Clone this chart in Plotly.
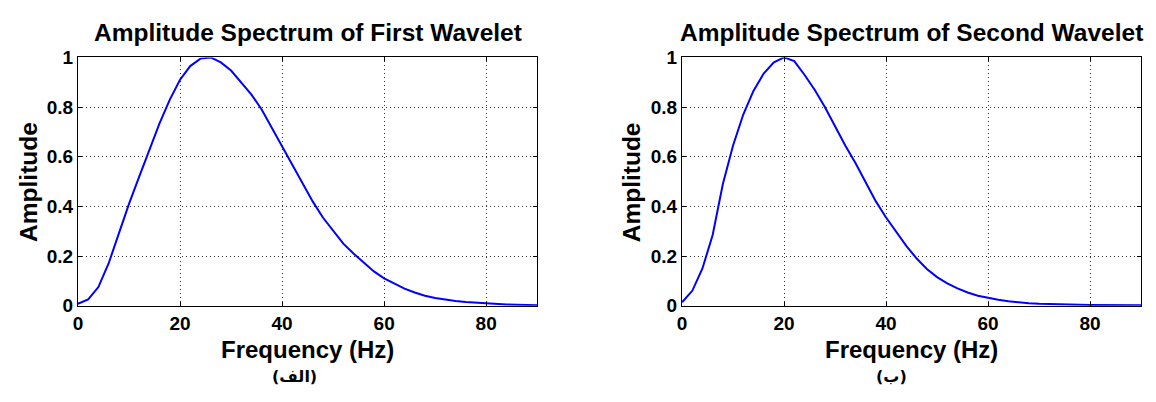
import plotly.graph_objects as go

# ---- data ----
freq1 = [0, 2, 4, 6, 8, 10, 12, 14, 16, 18, 20, 22, 24, 26, 28, 30, 32, 34, 36, 38, 40,
         42, 44, 46, 48, 50, 52, 54, 56, 58, 60, 62, 64, 66, 68, 70, 72, 74, 76, 78, 80,
         82, 84, 86, 88, 90]
amp1 = [0.008, 0.025, 0.075, 0.17, 0.29, 0.41, 0.52, 0.63, 0.735, 0.83, 0.91, 0.965, 0.995,
        1.0, 0.98, 0.947, 0.90, 0.85, 0.79, 0.715, 0.645, 0.57, 0.49, 0.42, 0.355, 0.30,
        0.25, 0.21, 0.172, 0.138, 0.11, 0.088, 0.069, 0.053, 0.040, 0.031, 0.024, 0.019,
        0.015, 0.012, 0.009, 0.007, 0.005, 0.004, 0.003, 0.002]

freq2 = [0, 2, 4, 6, 8, 10, 12, 14, 16, 18, 20, 22, 24, 26, 28, 30, 32, 34, 36, 38, 40,
         42, 44, 46, 48, 50, 52, 54, 56, 58, 60, 62, 64, 66, 68, 70, 74, 80, 90]
amp2 = [0.014, 0.06, 0.15, 0.285, 0.49, 0.645, 0.77, 0.865, 0.935, 0.98, 1.0, 0.985, 0.93,
        0.87, 0.80, 0.72, 0.645, 0.575, 0.495, 0.42, 0.355, 0.295, 0.24, 0.19, 0.148,
        0.115, 0.09, 0.07, 0.053, 0.04, 0.031, 0.024, 0.018, 0.013, 0.010, 0.008, 0.005,
        0.003, 0.002]

titles = ["Amplitude Spectrum of First Wavelet", "Amplitude Spectrum of Second Wavelet"]
captions = ["(الف)", "(ب)"]
x_title = "Frequency (Hz)"
y_title = "Amplitude"
x_ticks = [0, 20, 40, 60, 80]
y_ticks = [0, 0.2, 0.4, 0.6, 0.8, 1]
y_ticklabels = ["0", "0.2", "0.4", "0.6", "0.8", "1"]

W, H = 1156, 402
FONT = "Liberation Sans, Arial, Helvetica, sans-serif"


def px(xp):
    return xp / W


def py(yp):
    return 1 - yp / H


fig = go.Figure()
fig.add_trace(go.Scatter(x=freq1, y=amp1, mode="lines",
                         line=dict(color="#0000ff", width=2),
                         xaxis="x", yaxis="y", showlegend=False))
fig.add_trace(go.Scatter(x=freq2, y=amp2, mode="lines",
                         line=dict(color="#0000ff", width=2),
                         xaxis="x2", yaxis="y2", showlegend=False))

common = dict(showline=True, linecolor="black", linewidth=1.2, mirror="ticks",
              ticks="inside", ticklen=4, tickcolor="black",
              showgrid=True, gridcolor="#333333", griddash="1px,3px", gridwidth=1,
              zeroline=False,
              tickfont=dict(family=FONT, size=19, color="black", weight="bold"))

x_dom1 = [px(73.3), px(534.5)]
x_dom2 = [px(680), px(1141)]
y_dom = [py(312), py(50)]

xa = dict(common, range=[0, 90], tickvals=x_ticks, ticktext=[str(v) for v in x_ticks])
ya = dict(common, range=[0, 1], tickvals=y_ticks, ticktext=y_ticklabels)

fig.update_layout(
    width=W, height=H,
    margin=dict(l=0, r=0, t=0, b=0),
    paper_bgcolor="white", plot_bgcolor="white",
    xaxis=dict(xa, domain=x_dom1, anchor="y"),
    yaxis=dict(ya, domain=y_dom, anchor="x"),
    xaxis2=dict(xa, domain=x_dom2, anchor="y2"),
    yaxis2=dict(ya, domain=y_dom, anchor="x2"),
)

annotations = []
for i, (dom, ylab_x, cap_x) in enumerate([(x_dom1, 23, 291), (x_dom2, 629, 890)]):
    cx = (dom[0] + dom[1]) / 2
    annotations.append(dict(x=cx, y=py(24), xref="paper", yref="paper",
                            text="<b>%s</b>" % titles[i], showarrow=False,
                            xanchor="center", yanchor="middle",
                            font=dict(family=FONT, size=24.5, color="black")))
    annotations.append(dict(x=cx, y=py(358), xref="paper", yref="paper",
                            text="<b>%s</b>" % x_title, showarrow=False,
                            xanchor="center", yanchor="middle",
                            font=dict(family=FONT, size=24, color="black")))
    annotations.append(dict(x=px(ylab_x), y=py(181.5), xref="paper", yref="paper",
                            text="<b>%s</b>" % y_title, showarrow=False, textangle=-90,
                            xanchor="center", yanchor="middle",
                            font=dict(family=FONT, size=24.5, color="black")))
    annotations.append(dict(x=px(cap_x), y=py(387), xref="paper", yref="paper",
                            text="<b>%s</b>" % captions[i], showarrow=False,
                            xanchor="center", yanchor="middle",
                            font=dict(family="DejaVu Sans, sans-serif", size=16, color="black")))
fig.update_layout(annotations=annotations)

fig.write_html("out.html")
